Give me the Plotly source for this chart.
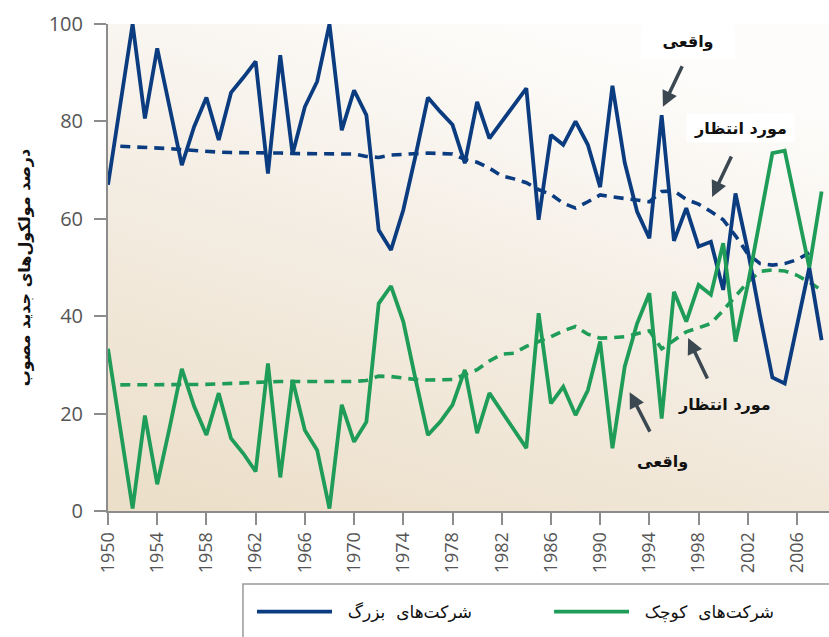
import base64
import plotly.graph_objects as go

# ---------------- data ----------------
years = list(range(1950, 2009))

big_actual = [67.0, 83.5, 100, 80.6, 95.0, 83.0, 71.0, 78.9, 84.9, 76.2,
              85.9, 89.0, 92.3, 69.3, 93.6, 73.3, 83.0, 88.2, 100, 78.2,
              86.4, 81.3, 57.7, 53.6, 61.8, 73.0, 84.9, 82.0, 79.3, 71.4,
              84.0, 76.5, 80.0, 83.5, 86.8, 59.8, 77.2, 75.2, 80.0, 75.2,
              66.5, 87.3, 71.5, 61.5, 56.0, 81.3, 55.5, 62.2, 54.3, 55.3,
              45.4, 65.2, 53.5, 40.0, 27.4, 26.2, 38.0, 50.0, 35.1]

small_actual = [33.3, 17.0, 0.5, 19.6, 5.5, 17.0, 29.2, 21.5, 15.6, 24.2,
                14.9, 11.8, 8.1, 30.3, 6.9, 26.9, 16.6, 12.5, 0.5, 21.8,
                14.2, 18.3, 42.6, 46.2, 38.9, 27.0, 15.6, 18.3, 21.8, 29.0,
                16.0, 24.2, 20.5, 16.7, 12.9, 40.6, 22.1, 25.5, 19.7, 24.8,
                34.8, 12.9, 29.7, 38.5, 44.7, 19.0, 45.0, 38.9, 46.4, 44.4,
                55.0, 34.8, 46.5, 60.0, 73.5, 74.0, 62.0, 50.0, 65.6]

exp_years_big = list(range(1951, 2008))
big_expected = [74.9, 74.8, 74.7, 74.6, 74.4, 74.2, 74.0, 73.8, 73.7,
                73.6, 73.6, 73.5, 73.5, 73.5, 73.4, 73.4, 73.4, 73.4, 73.4,
                73.3, 72.8, 72.6, 73.1, 73.2, 73.4, 73.5, 73.4, 73.3, 72.2,
                71.6, 70.4, 68.8, 68.2, 67.4, 66.0, 65.0, 63.2, 62.2, 63.5,
                64.9, 64.5, 64.2, 63.9, 63.5, 65.6, 65.7, 64.0, 63.0, 61.5,
                59.8, 56.5, 52.8, 50.8, 50.5, 50.8, 51.6, 53.0]

exp_years_small = list(range(1951, 2009))
small_expected = [25.9, 25.9, 25.9, 26.0, 26.0, 26.0, 26.0, 26.0, 26.1,
                  26.2, 26.3, 26.5, 26.6, 26.6, 26.6, 26.6, 26.6, 26.6, 26.6,
                  26.6, 26.8, 27.7, 27.6, 27.3, 27.0, 26.9, 26.9, 27.0, 28.0,
                  29.0, 30.8, 32.2, 32.4, 33.8, 34.8, 35.8, 37.0, 37.9, 36.3,
                  35.5, 35.6, 35.8, 36.4, 37.0, 33.3, 35.0, 36.8, 37.6, 38.5,
                  41.2, 44.0, 47.0, 49.2, 49.5, 49.3, 48.4, 47.0, 45.3]

x_ticks = list(range(1950, 2007, 4))
y_ticks = [0, 20, 40, 60, 80, 100]

name_big = "\u00a0\u00a0شرکت‌های\u00a0\u00a0بزرگ"
name_small = "\u00a0\u00a0شرکت‌های\u00a0\u00a0کوچک"
y_title = "درصد مولکول‌های جدید مصوب"
lbl_actual = "واقعی"
lbl_expected = "مورد انتظار"

BLUE = "#0b3c80"
GREEN = "#1f9d58"
ARROW = "#3b4852"
AXIS = "#8c8c8c"
TICKFONT = "#555555"
AR_FONT = "DejaVu Sans"

fig = go.Figure()

fig.add_trace(go.Scatter(x=exp_years_big, y=big_expected, mode="lines",
                         line=dict(color=BLUE, width=3.6, dash="10px,7px"),
                         showlegend=False, hoverinfo="skip"))
fig.add_trace(go.Scatter(x=exp_years_small, y=small_expected, mode="lines",
                         line=dict(color=GREEN, width=3.6, dash="10px,7px"),
                         showlegend=False, hoverinfo="skip"))
fig.add_trace(go.Scatter(x=years, y=big_actual, mode="lines", name=name_big,
                         line=dict(color=BLUE, width=3.8), legend="legend"))
fig.add_trace(go.Scatter(x=years, y=small_actual, mode="lines", name=name_small,
                         line=dict(color=GREEN, width=3.8), legend="legend2"))

# gradient background as an svg image
svg = ('<svg xmlns="http://www.w3.org/2000/svg" width="100" height="100" '
       'viewBox="0 0 100 100" preserveAspectRatio="none">'
       '<defs><linearGradient id="g" x1="0.1" y1="1" x2="0.55" y2="0">'
       '<stop offset="0" stop-color="#ecdfc9"/>'
       '<stop offset="0.55" stop-color="#f4ede3"/>'
       '<stop offset="1" stop-color="#fdfcfa"/>'
       '</linearGradient></defs>'
       '<rect width="100" height="100" fill="url(#g)"/></svg>')
src = "data:image/svg+xml;base64," + base64.b64encode(svg.encode()).decode()
fig.add_layout_image(dict(source=src, xref="paper", yref="paper", x=0, y=1,
                          sizex=1, sizey=1, sizing="stretch", layer="below",
                          xanchor="left", yanchor="top"))

# annotations with arrows
def arrow(xh, yh, ax, ay):
    fig.add_annotation(x=xh, y=yh, xref="x", yref="y", text="", showarrow=True,
                       ax=ax, ay=ay, arrowcolor=ARROW, arrowwidth=3.5,
                       arrowhead=2, arrowsize=0.9)

def label(xc, yc, txt, bg=None, w=None, h=None):
    fig.add_annotation(x=xc, y=yc, xref="x", yref="y", text="<b>" + txt + "</b>",
                       showarrow=False, font=dict(family=AR_FONT, size=16, color="#111111"),
                       bgcolor=bg if bg else "rgba(0,0,0,0)", width=w, height=h,
                       xanchor="center", yanchor="middle")

label(1997.1, 96.5, lbl_actual, bg="white", w=90, h=31)
label(2001.4, 78.6, lbl_expected, bg="white", w=105, h=26)
label(2000.1, 21.8, lbl_expected)
label(1995.1, 10.1, lbl_actual)
arrow(1995.1, 83.0, 20, -42)
arrow(1999.1, 64.5, 20, -42)
arrow(1997.15, 35.5, 20, 42)
arrow(1992.4, 24.4, 21, 41)

# legend frame
fig.add_shape(type="rect", xref="paper", yref="paper", x0=0.1872, x1=1.05,
              y0=-0.1499, y1=-0.4, line=dict(color="#9a9a9a", width=1.5),
              fillcolor="rgba(0,0,0,0)")

leg_common = dict(orientation="h", xanchor="left", y=-0.2074, yanchor="middle",
                  bgcolor="rgba(0,0,0,0)", itemwidth=75,
                  font=dict(family=AR_FONT, size=17, color="#111111"))

fig.update_layout(
    width=829, height=637,
    margin=dict(l=108, r=0, t=24, b=126, autoexpand=False),
    paper_bgcolor="white",
    plot_bgcolor="rgba(0,0,0,0)",
    showlegend=True,
    legend=dict(x=0.1997, **leg_common),
    legend2=dict(x=0.6117, **leg_common),
    xaxis=dict(range=[1950, 2008.6], tickvals=x_ticks, ticktext=[str(t) for t in x_ticks],
               tickangle=-90, ticks="outside", ticklen=12, tickwidth=1.5, tickcolor=AXIS,
               showline=True, linecolor=AXIS, linewidth=2, showgrid=False, zeroline=False,
               automargin=False,
               tickfont=dict(family="Open Sans", size=18, color=TICKFONT)),
    yaxis=dict(range=[0, 100], tickvals=y_ticks, ticks="outside", ticklen=12,
               tickwidth=1.5, tickcolor=AXIS, showline=True, linecolor=AXIS, linewidth=2,
               showgrid=False, zeroline=False, ticklabelstandoff=7, automargin=False,
               tickfont=dict(family="Open Sans", size=20, color=TICKFONT),
               title=dict(text="<b>" + y_title + "</b>", standoff=14,
                          font=dict(family=AR_FONT, size=16, color="#111111"))),
)

fig.write_html("out.html",
               config={"displayModeBar": False},
               post_script="document.body.style.margin='0px';"
                           "document.body.style.overflow='hidden';")
